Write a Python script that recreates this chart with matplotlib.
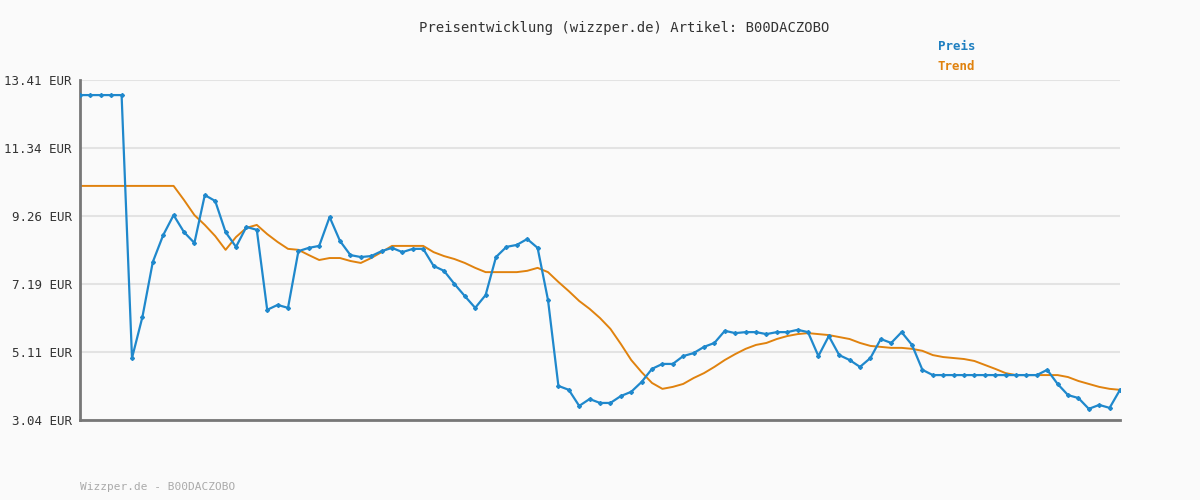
import matplotlib
matplotlib.use("Agg")
import matplotlib.pyplot as plt

price = [12.95]*5 + [4.93, 6.18, 7.86, 8.68, 9.29, 8.77, 8.44, 9.90, 9.72, 8.77, 8.32, 8.93, 8.84,
         6.40, 6.55, 6.46, 8.19, 8.29, 8.35, 9.23, 8.50, 8.07, 8.01, 8.04, 8.19, 8.29, 8.16, 8.26,
         8.26, 7.74, 7.59, 7.19, 6.82, 6.46, 6.85, 8.01, 8.32, 8.38, 8.56, 8.29, 6.70, 4.08, 3.96,
         3.47, 3.68, 3.56, 3.56, 3.77, 3.90, 4.20, 4.60, 4.75, 4.75, 4.99, 5.08, 5.27, 5.39, 5.76,
         5.69, 5.72, 5.72, 5.66, 5.72, 5.72, 5.79, 5.72, 4.99, 5.60, 5.02, 4.87, 4.66, 4.93, 5.51,
         5.39, 5.72, 5.33, 4.57] + [4.41]*11 + [4.57, 4.14, 3.80, 3.71, 3.38, 3.50, 3.41, 3.96]
trend = [10.18]*10 + [9.75, 9.29, 8.99, 8.65, 8.23, 8.62, 8.90, 8.99, 8.71, 8.47, 8.26, 8.23, 8.07,
         7.92, 7.98, 7.98, 7.89, 7.83, 7.98, 8.16, 8.35, 8.35, 8.35, 8.35, 8.16, 8.04, 7.95, 7.83,
         7.68, 7.55, 7.55, 7.55, 7.55, 7.59, 7.68, 7.55, 7.25, 6.97, 6.67, 6.43, 6.15, 5.82, 5.36,
         4.87, 4.50, 4.17, 3.99, 4.05, 4.14, 4.32, 4.47, 4.66, 4.87, 5.05, 5.21, 5.33, 5.39, 5.51,
         5.60, 5.66, 5.69, 5.66, 5.63, 5.57, 5.51, 5.39, 5.30, 5.27, 5.24, 5.24, 5.21, 5.15, 5.02,
         4.96, 4.93, 4.90, 4.84, 4.72, 4.60, 4.47] + [4.41]*5 + [4.35, 4.23, 4.14, 4.05, 3.99, 3.96]
yticks = [3.04, 5.11, 7.19, 9.26, 11.34, 13.41]
ytick_labels = [f"{v:.2f} EUR" for v in yticks]

mono = "DejaVu Sans Mono"
fig = plt.figure(figsize=(12, 5), dpi=100, facecolor="#fafafa")
ax = fig.add_axes([80/1200, 80/500, 1040/1200, 340/500], facecolor="#fafafa")
x = list(range(len(price)))
ax.plot(x, trend, color="#e0820e", lw=1.4, zorder=2)
ax.plot(x, price, color="#1f88cc", lw=1.6, marker="D", ms=2, zorder=3)
ax.set_xlim(0, len(price)-1)
ax.set_ylim(yticks[0], yticks[-1])
ax.set_yticks(yticks)
ax.set_yticklabels(ytick_labels, family=mono, fontsize=9, color="#333333")
ax.set_xticks([])
ax.tick_params(axis="y", length=0, pad=6)
ax.grid(axis="y", color="#e3e3e3", lw=1.5)
ax.set_axisbelow(True)
for s in ["top", "right"]:
    ax.spines[s].set_visible(False)
for s in ["left", "bottom"]:
    ax.spines[s].set_color("#777777")
    ax.spines[s].set_linewidth(2)
fig.text(624/1200, 1-28/500, "Preisentwicklung (wizzper.de) Artikel: B00DACZOBO", ha="center", va="center",
         family=mono, fontsize=10, color="#333333")
fig.text(938/1200, 1-47/500, "Preis", family=mono, fontsize=9, weight="bold", color="#1f7fc0", va="center")
fig.text(938/1200, 1-67/500, "Trend", family=mono, fontsize=9, weight="bold", color="#e0820e", va="center")
fig.text(80/1200, 1-487/500, "Wizzper.de - B00DACZOBO", family=mono, fontsize=8, color="#aaaaaa", va="center")
fig.savefig("out.png", dpi=100, facecolor=fig.get_facecolor())
